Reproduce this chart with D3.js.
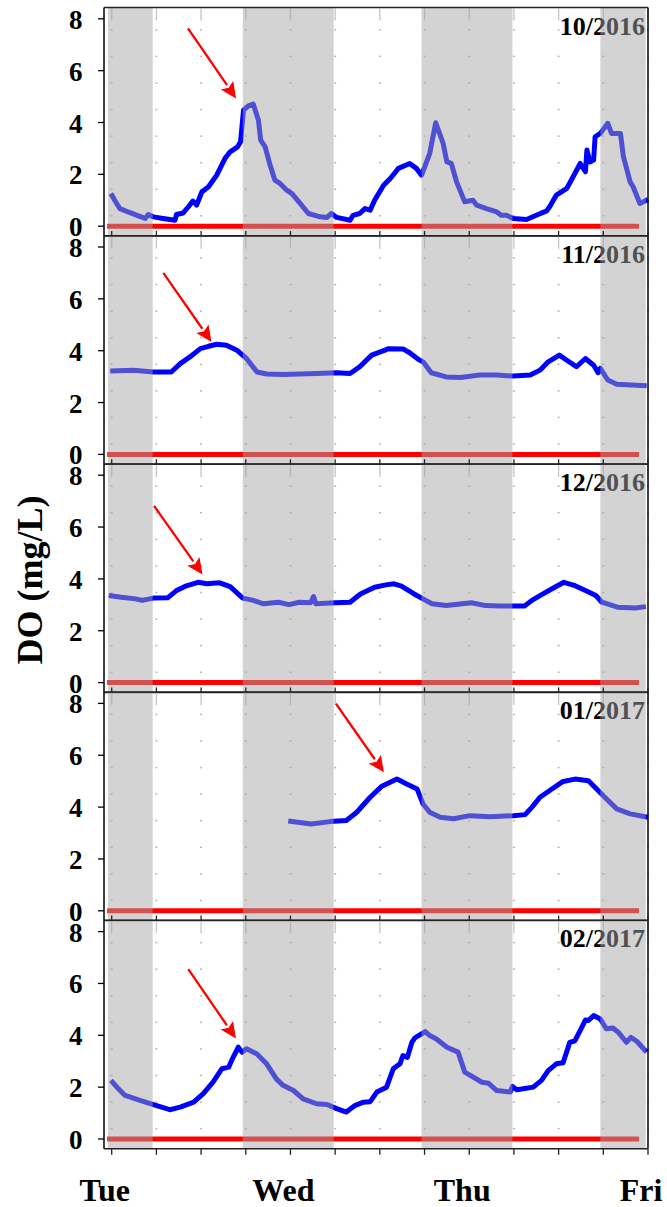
<!DOCTYPE html>
<html><head><meta charset="utf-8">
<script src="https://cdn.jsdelivr.net/npm/d3@7"></script>
<style>html,body{margin:0;padding:0;background:#fff;}svg{display:block;}</style>
</head><body>
<script>
// ---- DATA ----
const panelLabels = ["10/2016", "11/2016", "12/2016", "01/2017", "02/2017"];
const dayLabels = ["Tue", "Wed", "Thu", "Fri"];
const dayHours = [0, 24, 48, 72];
const yTicks = [0, 2, 4, 6, 8];
const threshold = 0;
const nights = [[-0.5, 5.5], [17.6, 29.8], [41.6, 53.8], [65.6, 71.7]];

const do1016 = [[-0.1,1.26],[0.4,1.0],[1.1,0.68],[2.2,0.55],[3.4,0.42],[4.5,0.30],[4.9,0.45],[5.6,0.36],[6.9,0.30],[8.5,0.23],[8.7,0.45],[9.6,0.51],[10.3,0.75],[10.9,0.97],[11.4,0.81],[12.1,1.32],[13.0,1.52],[14.1,1.97],[15.2,2.61],[15.9,2.87],[16.9,3.06],[17.3,3.26],[17.7,4.48],[18.3,4.63],[19.0,4.71],[19.7,4.09],[20.0,3.32],[20.6,3.06],[21.2,2.42],[21.9,1.78],[22.6,1.65],[23.5,1.39],[24.2,1.26],[25.3,0.88],[26.4,0.49],[28.0,0.36],[28.9,0.34],[29.5,0.49],[30.2,0.34],[32.0,0.23],[32.4,0.42],[33.3,0.49],[34.0,0.68],[34.7,0.62],[35.3,1.0],[36.5,1.58],[37.4,1.84],[38.5,2.23],[40.0,2.42],[40.9,2.23],[41.6,1.97],[42.7,2.81],[43.5,3.99],[44.5,3.19],[45.0,2.48],[45.6,2.42],[46.3,1.71],[47.4,0.94],[48.5,1.0],[49.0,0.81],[50.3,0.68],[51.7,0.55],[52.3,0.42],[53.0,0.42],[53.9,0.30],[55.7,0.26],[57.0,0.42],[58.4,0.59],[58.8,0.75],[59.7,1.2],[61.1,1.46],[62.2,2.04],[62.9,2.42],[63.6,2.1],[63.8,2.94],[64.2,2.48],[64.7,2.55],[64.9,3.45],[65.6,3.58],[66.6,3.97],[67.1,3.58],[68.3,3.58],[68.7,2.68],[69.6,1.71],[70.0,1.52],[70.9,0.88],[72.0,1.03]];
const do1116 = [[-0.2,3.22],[2.9,3.25],[5.6,3.18],[8.0,3.18],[9.2,3.5],[10.5,3.76],[11.9,4.08],[13.0,4.17],[14.1,4.25],[15.4,4.21],[16.8,4.02],[18.1,3.7],[19.5,3.18],[20.8,3.1],[23.0,3.08],[27.5,3.12],[30.2,3.15],[32.0,3.12],[33.3,3.38],[34.9,3.83],[36.7,4.02],[37.1,4.08],[39.1,4.07],[40.0,3.92],[41.2,3.66],[41.8,3.57],[42.9,3.15],[44.9,2.99],[46.8,2.97],[49.4,3.06],[51.7,3.06],[53.9,3.02],[56.2,3.06],[57.5,3.25],[58.6,3.57],[60.1,3.83],[61.1,3.63],[62.4,3.38],[63.6,3.7],[64.7,3.44],[65.3,3.15],[65.6,3.32],[66.6,2.87],[67.8,2.71],[71.8,2.65]];
const do1216 = [[-0.4,3.36],[1.3,3.29],[3.2,3.23],[4.1,3.17],[5.6,3.26],[7.5,3.27],[8.7,3.55],[9.9,3.72],[11.6,3.87],[12.8,3.81],[14.5,3.85],[15.9,3.70],[17.6,3.26],[19.0,3.17],[20.4,3.04],[22.4,3.10],[23.8,3.01],[25.2,3.10],[26.7,3.08],[27.1,3.32],[27.4,3.04],[30.0,3.08],[32.0,3.10],[33.4,3.42],[35.3,3.68],[36.8,3.77],[37.9,3.81],[38.9,3.72],[40.6,3.42],[41.8,3.23],[43.0,3.04],[44.9,2.97],[48.3,3.08],[50.2,2.97],[52.1,2.95],[55.4,2.95],[56.4,3.17],[57.9,3.42],[59.3,3.65],[60.7,3.87],[62.2,3.74],[63.6,3.55],[65.0,3.36],[65.8,3.10],[67.9,2.91],[70.3,2.88],[71.7,2.93]];
const do0117 = [[23.7,3.46],[26.8,3.35],[29.3,3.44],[31.5,3.48],[32.9,3.8],[34.7,4.38],[36.2,4.79],[38.3,5.08],[39.6,4.89],[41.0,4.7],[41.8,4.12],[42.7,3.8],[44.1,3.61],[45.9,3.55],[48.1,3.67],[50.8,3.63],[53.9,3.67],[55.5,3.71],[56.4,3.99],[57.5,4.38],[59.1,4.7],[60.6,4.99],[62.2,5.08],[64.0,5.02],[65.1,4.7],[66.4,4.32],[67.8,3.93],[69.6,3.74],[72.0,3.61]];
const do0217 = [[-0.1,2.26],[0.7,2.0],[1.8,1.68],[3.8,1.49],[5.6,1.33],[7.8,1.13],[9.2,1.23],[11.0,1.42],[12.3,1.75],[13.6,2.19],[14.8,2.71],[15.7,2.77],[16.3,3.15],[17.0,3.54],[17.5,3.35],[18.1,3.48],[19.5,3.28],[20.8,2.9],[22.1,2.32],[23.0,2.07],[24.4,1.87],[25.7,1.55],[27.5,1.36],[28.9,1.33],[30.2,1.17],[31.5,1.04],[32.7,1.30],[33.8,1.42],[34.7,1.44],[35.6,1.81],[36.9,2.0],[37.8,2.71],[38.7,2.9],[39.1,3.22],[39.7,3.15],[40.3,3.73],[40.7,3.90],[42.1,4.14],[42.7,3.99],[43.6,3.86],[45.0,3.54],[46.5,3.35],[47.4,2.58],[49.7,2.19],[50.6,2.15],[51.7,1.87],[53.5,1.81],[53.8,2.03],[54.4,1.9],[56.6,2.0],[57.7,2.26],[58.6,2.64],[59.7,2.9],[60.6,2.94],[61.5,3.73],[62.2,3.79],[63.6,4.59],[64.0,4.57],[64.7,4.76],[65.6,4.63],[66.4,4.25],[67.3,4.28],[68.0,4.12],[69.1,3.73],[69.7,3.92],[70.5,3.77],[71.8,3.35]];
const series = [do1016, do1116, do1216, do0117, do0217];
// arrow annotations [h0, v0, h1, v1] (tail -> tip)
const arrows = [[10.24,7.63,16.7,4.93],[6.93,7.0,13.4,4.34],[5.68,6.82,12.2,4.17],[30.1,7.99,36.55,5.34],[10.28,6.55,16.68,3.88]];

// ---- LAYOUT ----
const W = 667, H = 1207;
const svg = d3.select("body").append("svg").attr("width", W).attr("height", H);
svg.append("rect").attr("width", W).attr("height", H).attr("fill", "#fff");

const x = d3.scaleLinear().domain([0, 72]).range([111.7, 648]);
const xLeft = 104, xRight = 648;
const pitch = 228.2, top0 = 7.5, panelH = 228.5;
const serif = "'Liberation Serif','Times New Roman',Times,serif";
const xTickHours = d3.range(0, 73, 6);
const dotRows = d3.range(8).map(k => 0.4 + k * 1.025);

series.forEach((data, i) => {
  const T = top0 + pitch * i;
  const y = d3.scaleLinear().domain([0, 8]).range([T + 218.7, T + 11.3]);
  const g = svg.append("g");

  // grid dots
  xTickHours.forEach(hh => {
    dotRows.forEach(r => {
      g.append("rect").attr("x", x(hh) - 1).attr("y", y(r) - 0.75)
        .attr("width", 2).attr("height", 1.5).attr("fill", "#b8b8b8");
    });
    // short grey segments at top
    g.append("line").attr("x1", x(hh)).attr("x2", x(hh))
      .attr("y1", T + 1).attr("y2", T + 13)
      .attr("stroke", "#c4c4c4").attr("stroke-width", 1.3);
  });

  // red threshold line
  g.append("line").attr("x1", x(-0.6)).attr("x2", x(70.8))
    .attr("y1", y(threshold)).attr("y2", y(threshold))
    .attr("stroke", "#ff0000").attr("stroke-width", 5);

  // blue DO line
  const line = d3.line().x(d => x(d[0])).y(d => y(d[1]));
  g.append("path").datum(data).attr("d", line)
    .attr("fill", "none").attr("stroke", "#0000ff")
    .attr("stroke-width", 5).attr("stroke-linejoin", "round").attr("stroke-linecap", "butt");

  // title
  g.append("text").attr("x", 645).attr("y", T + 27)
    .attr("text-anchor", "end").attr("font-family", serif)
    .attr("font-weight", "bold").attr("font-size", 26).attr("fill", "#000")
    .text(panelLabels[i]);

  // arrow
  const a = arrows[i];
  const x0 = x(a[0]), y0 = y(a[1]), x1 = x(a[2]), y1 = y(a[3]);
  const ang = Math.atan2(y1 - y0, x1 - x0);
  const headL = 16, headW = 7.5;
  const bx = x1 - headL * Math.cos(ang), by = y1 - headL * Math.sin(ang);
  g.append("line").attr("x1", x0).attr("y1", y0).attr("x2", bx).attr("y2", by)
    .attr("stroke", "#ff0000").attr("stroke-width", 2.3);
  const px = -Math.sin(ang) * headW, py = Math.cos(ang) * headW;
  g.append("path").attr("d", `M${x1},${y1}L${bx + px},${by + py}L${bx + 3 * Math.cos(ang)},${by + 3 * Math.sin(ang)}L${bx - px},${by - py}Z`)
    .attr("fill", "#ff0000");

  // night overlays
  nights.forEach(n => {
    g.append("rect").attr("x", x(n[0])).attr("width", x(n[1]) - x(n[0]))
      .attr("y", T).attr("height", panelH)
      .attr("fill", "rgb(164,164,164)").attr("fill-opacity", 0.486);
  });

  // frame
  const bottom = T + panelH;
  g.append("line").attr("x1", xLeft).attr("x2", xLeft).attr("y1", T).attr("y2", bottom)
    .attr("stroke", "#000").attr("stroke-width", 1.5);
  g.append("line").attr("x1", xRight).attr("x2", xRight).attr("y1", T).attr("y2", bottom)
    .attr("stroke", "#000").attr("stroke-width", 1.5);
  g.append("line").attr("x1", xLeft).attr("x2", xRight).attr("y1", T).attr("y2", T)
    .attr("stroke", "#222").attr("stroke-width", 1.5);
  g.append("line").attr("x1", xLeft).attr("x2", xRight).attr("y1", bottom).attr("y2", bottom)
    .attr("stroke", "#222").attr("stroke-width", 1.5);

  // x ticks on bottom line
  const last = i === series.length - 1;
  xTickHours.forEach(hh => {
    g.append("line").attr("x1", x(hh)).attr("x2", x(hh))
      .attr("y1", bottom).attr("y2", last ? bottom + 6 : bottom - 5)
      .attr("stroke", "#222").attr("stroke-width", 1.3);
  });

  // y axis ticks & labels
  yTicks.forEach(t => {
    g.append("line").attr("x1", xLeft - 6).attr("x2", xLeft)
      .attr("y1", y(t)).attr("y2", y(t)).attr("stroke", "#000").attr("stroke-width", 1.3);
    g.append("text").attr("x", 82.5).attr("y", y(t) + 10)
      .attr("text-anchor", "end").attr("font-family", serif)
      .attr("font-weight", "bold").attr("font-size", 27).attr("fill", "#000")
      .text(t);
  });
});

// x labels
dayLabels.forEach((d, k) => {
  svg.append("text").attr("x", x(dayHours[k]) - 7).attr("y", 1201)
    .attr("text-anchor", "middle").attr("font-family", serif)
    .attr("font-weight", "bold").attr("font-size", 32).attr("fill", "#000")
    .text(d);
});

// y title
svg.append("text").attr("transform", "translate(42,580) rotate(-90)")
  .attr("text-anchor", "middle").attr("font-family", serif)
  .attr("font-weight", "bold").attr("font-size", 36).attr("fill", "#000")
  .text("DO (mg/L)");
</script>
</body></html>
